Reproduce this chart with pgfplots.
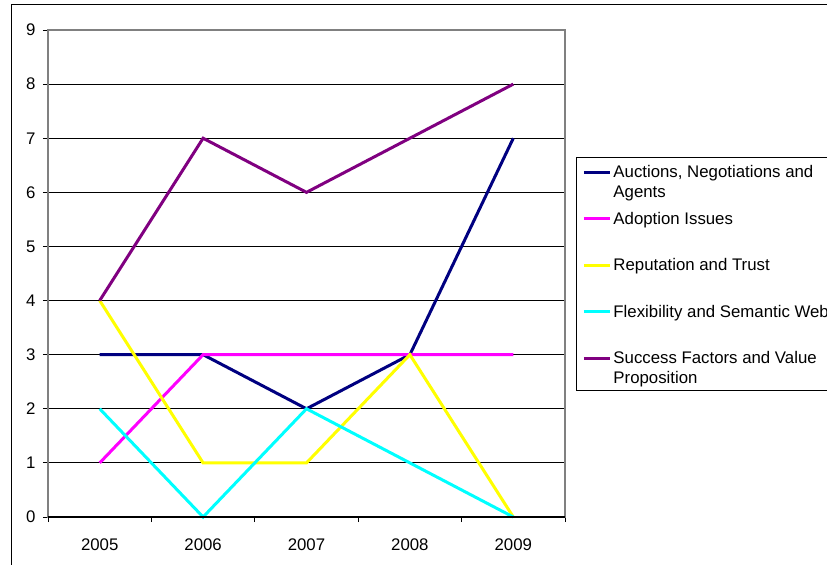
\documentclass[border=0pt]{standalone}
\usepackage{fontspec}
\setmainfont{Liberation Sans}
\usepackage{pgfplots}
\pgfplotsset{compat=1.18}
\definecolor{cAuc}{RGB}{0,0,128}
\definecolor{cAdo}{RGB}{255,0,255}
\definecolor{cRep}{RGB}{255,255,0}
\definecolor{cFle}{RGB}{0,255,255}
\definecolor{cSuc}{RGB}{128,0,128}
\definecolor{frame}{RGB}{128,128,128}
\newcommand{\lf}{\fontsize{16.8bp}{20bp}\selectfont}
\newcommand{\ent}[1]{\parbox[t]{232bp}{\raggedright #1}}
\begin{document}
\begin{tikzpicture}
\useasboundingbox (0,0) rectangle (827bp,-565bp);
\clip (0,0) rectangle (827bp,-565bp);
\draw[black, line width=1bp] (11bp,-570bp) -- (11bp,-4.5bp) -- (840bp,-4.5bp);
\begin{axis}[
  at={(48bp,-517bp)}, anchor=south west,
  scale only axis, width=517bp, height=487bp,
  xmin=0.5, xmax=5.5, ymin=0, ymax=9,
  xtick={1,2,3,4,5}, xticklabels={2005,2006,2007,2008,2009},
  major x tick style={draw=none},
  minor xtick={0.5,1.5,2.5,3.5,4.5,5.5},
  minor x tick style={black, line width=1bp},
  ytick={0,1,2,3,4,5,6,7,8,9},
  major y tick style={black, line width=1bp},
  xtick pos=bottom, ytick pos=left,
  tick align=outside, major tick length=5bp, minor tick length=5bp,
  ymajorgrids, grid style={black, line width=0.9bp},
  axis line style={draw=frame, line width=1.5bp},
  tick label style={font=\lf},
  xticklabel style={yshift=-13bp},
  yticklabel style={xshift=-4bp},
  /pgf/number format/assume math mode=true,
  clip=false,
  legend style={at={(1.0213,0.7392)}, anchor=north west, draw=black, line width=0.9bp,
    inner xsep=6bp, inner ysep=0bp, column sep=1bp, row sep=0pt, font=\lf,
    cells={anchor=base west}, nodes={inner sep=1bp, text height=19.5bp, text depth=25bp}},
  legend image code/.code={\draw[line width=3bp] (0bp,5.5bp) -- (26bp,5.5bp);},
  myline/.style={line width=3bp, mark=none},
  extra description/.code={\draw[black, line width=1.1bp] (axis description cs:0,0) -- (axis description cs:1,0);},
]
\addplot[myline, cAuc] coordinates {(1,3) (2,3) (3,2) (4,3) (5,7)};
\addlegendentry{\ent{Auctions, Negotiations and Agents}}
\addplot[myline, cAdo] coordinates {(1,1) (2,3) (3,3) (4,3) (5,3)};
\addlegendentry{\ent{Adoption Issues}}
\addplot[myline, cRep] coordinates {(1,4) (2,1) (3,1) (4,3) (5,0)};
\addlegendentry{\ent{Reputation and Trust}}
\addplot[myline, cFle] coordinates {(1,2) (2,0) (3,2) (4,1) (5,0)};
\addlegendentry{\ent{Flexibility and Semantic Web}}
\addplot[myline, cSuc] coordinates {(1,4) (2,7) (3,6) (4,7) (5,8)};
\addlegendentry{\ent{Success Factors and Value Proposition}}
\end{axis}
\end{tikzpicture}
\end{document}
